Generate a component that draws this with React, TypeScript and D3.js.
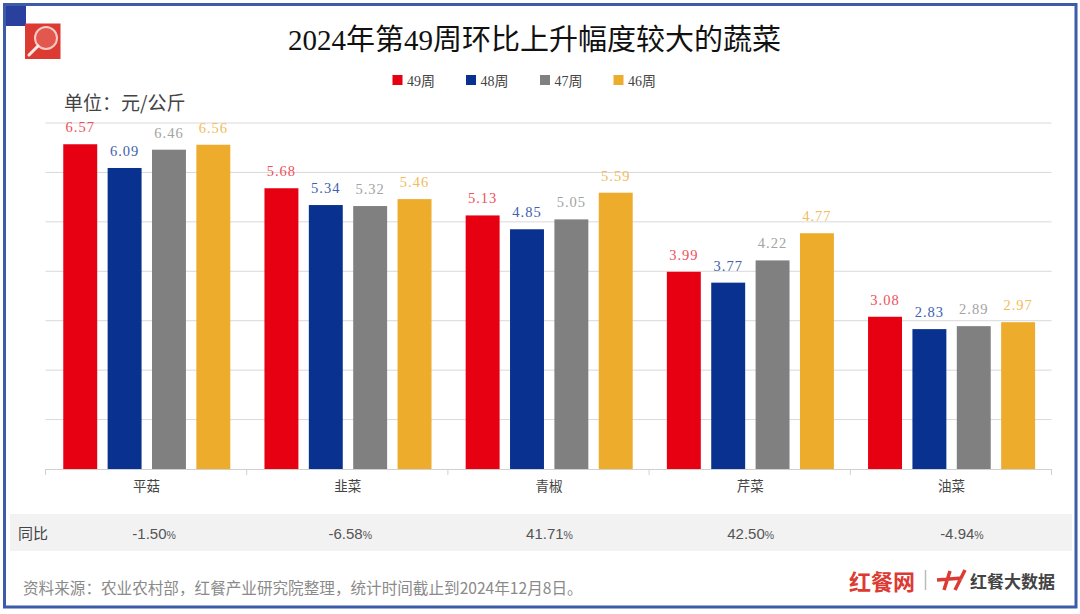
import React from "react";
import * as d3 from "d3";

const categories = ["平菇", "韭菜", "青椒", "芹菜", "油菜"];
const seriesNames = ["49周", "48周", "47周", "46周"];
const week49 = [6.57, 5.68, 5.13, 3.99, 3.08];
const week48 = [6.09, 5.34, 4.85, 3.77, 2.83];
const week47 = [6.46, 5.32, 5.05, 4.22, 2.89];
const week46 = [6.56, 5.46, 5.59, 4.77, 2.97];
const seriesValues = [week49, week48, week47, week46];
const seriesColors = ["#e60012", "#09318f", "#808080", "#edac2c"];
const labelColors = ["#f0505c", "#4062ae", "#a3a3a3", "#f2bc5c"];
const yoy = ["-1.50", "-6.58", "41.71", "42.50", "-4.94"];
const yTicks = [0, 1, 2, 3, 4, 5, 6, 7];

const W = 1080, H = 614;
const yoyShift = [8, 3, 1, 1, 11];
const SERIF = "'Liberation Serif','Noto Sans CJK SC',serif";
const SANS = "'Liberation Sans','Noto Sans CJK SC',sans-serif";
const CJK = "'Noto Sans CJK SC',sans-serif";

export default function App() {
  const x = d3.scaleBand<string>().domain(categories).range([45.5, 1051.5]);
  const inner = d3.scaleBand<string>().domain(seriesNames).range([0, x.bandwidth()]).paddingInner(0.235).paddingOuter(0.385).align(0.52);
  const y = d3.scaleLinear().domain([0, 7]).range([469, 123]);
  const legendX = d3.scaleOrdinal<string, number>().domain(seriesNames).range([392.5, 466, 540, 613.5]);

  return (
    <svg width={W} height={H} style={{ position: "absolute", left: 0, top: 0, background: "#fff" }}>
      <rect x={4.5} y={4.5} width={1071.5} height={602.5} fill="none" stroke="#3c5ba9" strokeWidth={3} />
      <rect x={6} y={6} width={20} height={20} fill="#2a409f" />
      <g>
        <rect x={25} y={23.5} width={35.5} height={35.5} fill="#dc3b33" />
        <circle cx={46} cy={38} r={11} fill="#e2584f" stroke="#f6c9c5" strokeWidth={2} />
        <line x1={38} y1={46} x2={29} y2={55} stroke="#fbe9e7" strokeWidth={3} strokeLinecap="round" />
      </g>

      <text x={534.5} y={50} textAnchor="middle" fontFamily={SERIF} fontSize={29} fill="#111">2024年第49周环比上升幅度较大的蔬菜</text>

      {seriesNames.map((s, i) => (
        <g key={s}>
          <rect x={legendX(s)} y={75} width={10} height={10} fill={seriesColors[i]} />
          <text x={legendX(s) + 14.5} y={85.5} fontFamily={SERIF} fontSize={14} fill="#444">{s}</text>
        </g>
      ))}

      <text x={64} y={110} fontFamily={CJK} fontSize={19} fill="#444">单位：元/公斤</text>

      {yTicks.filter((t) => t > 0).map((t) => (
        <line key={t} x1={45.5} x2={1051.5} y1={y(t)} y2={y(t)} stroke="#d9d9d9" />
      ))}

      {categories.map((c, ci) => (
        <g key={c} transform={`translate(${x(c)},0)`}>
          {seriesNames.map((s, si) => {
            const v = seriesValues[si][ci];
            const bx = inner(s)!;
            return (
              <g key={s}>
                <rect x={bx} y={y(v)} width={inner.bandwidth()} height={y(0) - y(v)} fill={seriesColors[si]} />
                <text x={bx + inner.bandwidth() / 2} y={y(v) - 12} textAnchor="middle" fontFamily={SERIF} fontSize={14.5} letterSpacing={1} fill={labelColors[si]}>{v.toFixed(2)}</text>
              </g>
            );
          })}
        </g>
      ))}

      <line x1={45.5} x2={1051.5} y1={469.5} y2={469.5} stroke="#d0d0d0" />
      {[...categories.map((c) => x(c)!), 1051.5].map((t, i) => (
        <line key={i} x1={t} x2={t} y1={469} y2={475} stroke="#d0d0d0" />
      ))}
      {categories.map((c) => (
        <text key={c} x={x(c)! + x.bandwidth() / 2 + 0.5} y={491} textAnchor="middle" fontFamily={CJK} fontSize={13.5} fill="#444">{c}</text>
      ))}

      <rect x={10} y={514} width={1062} height={37} fill="#f2f2f2" />
      <text x={18} y={539} fontFamily={CJK} fontSize={15} fill="#444">同比</text>
      {categories.map((c, i) => (
        <text key={c} x={x(c)! + x.bandwidth() / 2 + yoyShift[i]} y={538.5} textAnchor="middle" fontFamily={SANS} fontSize={15} fill="#555">
          {yoy[i]}<tspan fontSize={10.5}>%</tspan>
        </text>
      ))}

      <text x={23} y={594} fontFamily={CJK} fontSize={15.6} fill="#8a8a8a">资料来源：农业农村部，红餐产业研究院整理，统计时间截止到2024年12月8日。</text>

      <text x={849} y={590} fontFamily={CJK} fontSize={22} fontWeight={700} fill="#dc3b33">红餐网</text>
      <line x1={925.5} x2={925.5} y1={570} y2={590} stroke="#bbb" strokeWidth={1.5} />
      <path d="M937 580 L962 578 M950 571 L944 590 M965 570 L955 590" stroke="#dc3b33" strokeWidth={3.5} fill="none" />
      <text x={970} y={588} fontFamily={CJK} fontSize={17} fontWeight={700} fill="#444">红餐大数据</text>
    </svg>
  );
}
